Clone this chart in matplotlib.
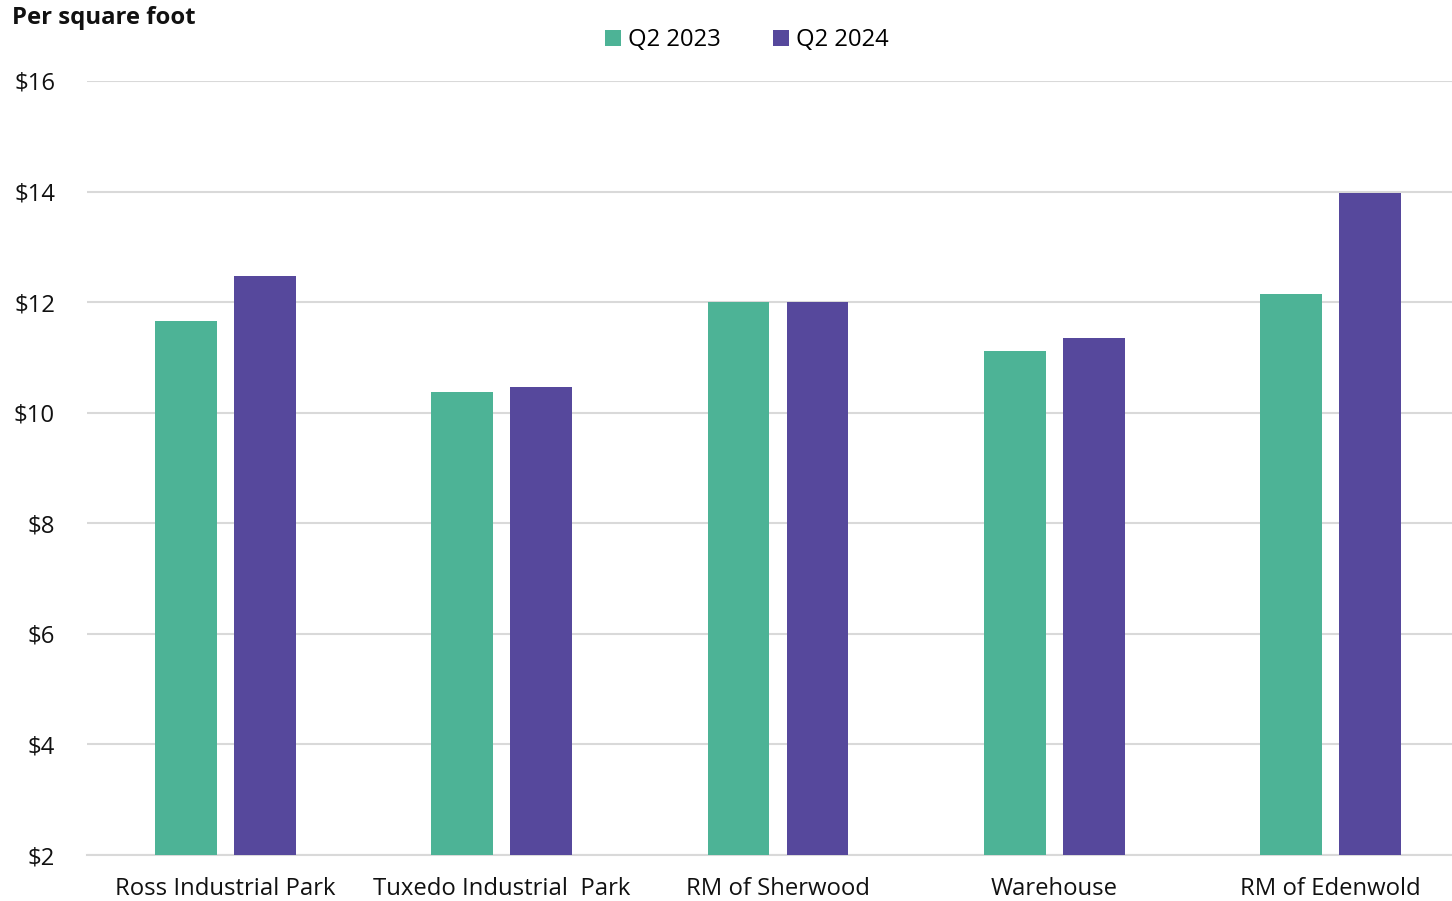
import numpy as np
import matplotlib.pyplot as plt

plt.rcParams['font.family'] = ['Open Sans', 'DejaVu Sans']

categories = ["Ross Industrial Park", "Tuxedo Industrial  Park", "RM of Sherwood",
              "Warehouse", "RM of Edenwold"]
q2_2023 = [11.65, 10.38, 12.0, 11.12, 12.14]
q2_2024 = [12.47, 10.47, 12.0, 11.36, 13.98]
yticks = [2, 4, 6, 8, 10, 12, 14, 16]

green = '#4DB396'
purple = '#56489C'

fig = plt.figure(figsize=(14.52, 9.01), dpi=100)
# axes run a bit past the right edge of the picture, as in the source
ax = fig.add_axes([87 / 1452, 46 / 901, 1382 / 1452, 774 / 901])

x = np.arange(len(categories))
w = 0.224
off = 0.143
ax.bar(x - off, q2_2023, width=w, color=green, label='Q2 2023', zorder=3)
ax.bar(x + off, q2_2024, width=w, color=purple, label='Q2 2024', zorder=3)

ax.set_ylim(2, 16)
ax.set_xlim(-0.5, len(categories) - 0.5)
ax.set_yticks(yticks)
ax.set_yticklabels(['$' + str(v) for v in yticks], fontsize=17.2)
ax.set_xticks(x)
ax.set_xticklabels(categories, fontsize=17.2)
ax.tick_params(axis='both', length=0, colors='#111111')
ax.tick_params(axis='y', pad=23)
ax.tick_params(axis='x', pad=16)
ax.grid(axis='y', color='#D9D9D9', linewidth=1.5, zorder=0)
for s in ['left', 'right', 'top']:
    ax.spines[s].set_visible(False)
ax.spines['bottom'].set_color('#D9D9D9')
ax.spines['bottom'].set_linewidth(1.5)

fig.text(12 / 1452, 1 - 18 / 901, 'Per square foot', fontsize=17.2, fontweight='bold',
         va='center', ha='left', color='#111111')

fig.legend(loc='center', bbox_to_anchor=(747 / 1452, 1 - 40 / 901), ncol=2, frameon=False,
           fontsize=17.2, handlelength=0.65, handleheight=0.65, handletextpad=0.3,
           columnspacing=2.2)

fig.savefig('out.png', dpi=100)
